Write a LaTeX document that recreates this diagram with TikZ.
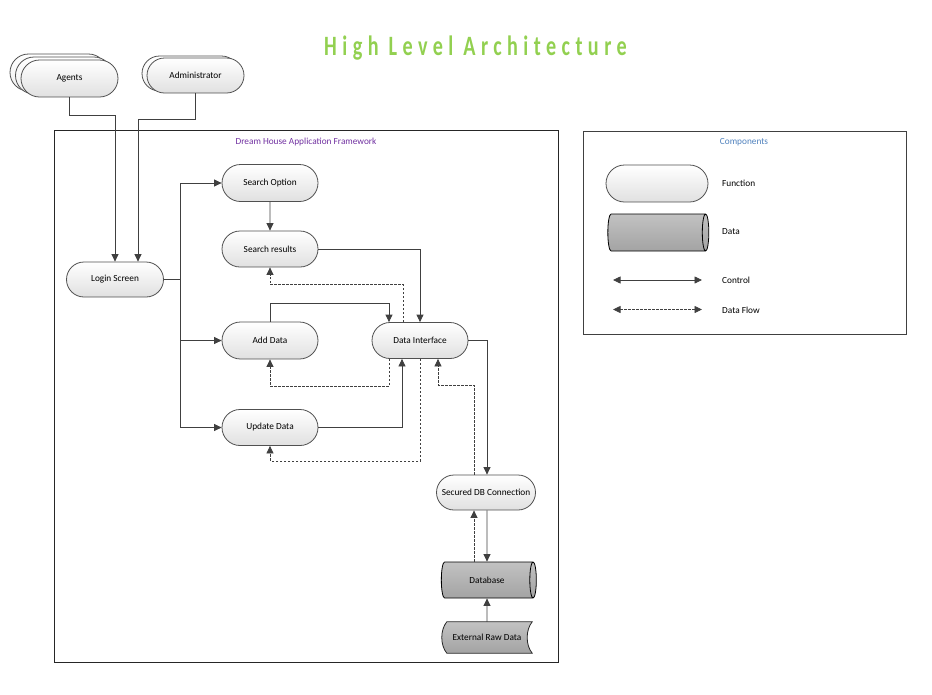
\documentclass[tikz,border=0pt]{standalone}
\usepackage{fontspec}
\setmainfont{Carlito}
\usepackage{tikz}
\usetikzlibrary{shapes.misc,shapes.geometric,shadows,arrows.meta,calc,backgrounds}

\definecolor{linegray}{RGB}{64,64,64}
\definecolor{boxgray}{RGB}{80,80,80}
\definecolor{titlegreen}{RGB}{146,208,80}
\definecolor{framepurple}{RGB}{112,48,160}
\definecolor{compblue}{RGB}{79,129,189}
\definecolor{datagray}{RGB}{172,172,172}

\begin{document}
\begin{tikzpicture}[x=1pt,y=-1pt]
	\tikzstyle{every node}+=[inner sep=0pt, font=\fontsize{9.3}{11}\selectfont]
	\tikzstyle{func}=[rounded rectangle, draw=boxgray, line width=0.8pt, top color=white, bottom color=black!12, minimum width=96pt, minimum height=36pt]
	\tikzstyle{backcopy}=[draw=boxgray, fill=white, top color=white, bottom color=black!6]
	\tikzstyle{data}=[cylinder, draw=black, line width=0.8pt, top color=black!24, bottom color=black!36, shape aspect=1, minimum height=95pt, minimum width=36pt]
	\tikzstyle{ctrl}=[draw=linegray, line width=0.8pt, >={Triangle[length=7.5pt,width=7pt]}, ->]
	\tikzstyle{flow}=[ctrl, dash pattern=on 2.5pt off 1.5pt]
	\useasboundingbox (0,0) rectangle (932,694);

	% title
	\node[text=titlegreen, font=\fontsize{28}{32}\selectfont\bfseries\addfontfeature{LetterSpace=27}] (title) at (475.5,48.5) {\scalebox{0.72}[1]{High Level Architecture}};

	% users
	\node[func, minimum width=97pt, minimum height=37pt, copy shadow={shadow xshift=-11pt,shadow yshift=6pt,backcopy}, copy shadow={shadow xshift=-5.5pt,shadow yshift=3pt,backcopy}] (agents) at (69.5,78.5) {Agents};
	\node[func, minimum width=97pt, minimum height=35pt, copy shadow={shadow xshift=-5pt,shadow yshift=2pt,backcopy}] (admin) at (195.5,75.5) {Administrator};

	% framework
	\node[draw=black!85, line width=0.8pt, minimum width=504pt, minimum height=532pt] (frame) at (306,396) {};
	\node[text=framepurple] (frametitle) at (306,142) {Dream House Application Framework};
	\node[func, minimum width=97pt, minimum height=35pt] (login) at (115,279.5) {Login Screen};
	\node[func, minimum height=37pt] (srchopt) at (270,183) {Search Option};
	\node[func] (srchres) at (270,249) {Search results};
	\node[func, minimum height=37pt] (adddata) at (270,340.5) {Add Data};
	\node[func] (upddata) at (270,427.5) {Update Data};
	\node[func] (dataif) at (420,340.5) {Data Interface};
	\node[func, minimum width=99pt, minimum height=35pt] (secdb) at (486,492.5) {Secured DB Connection};
	\node[data] (database) at (487,580) {Database};
	\node[minimum width=90pt, minimum height=31pt] (raw) at (487,637.5) {External Raw Data};
	\begin{scope}[on background layer]
		\draw[draw=black!85, line width=0.8pt, top color=black!24, bottom color=black!36] ($(raw.north west)+(5,0)$) -- (raw.north east) .. controls ($(raw.north east)+(-6.7,8)$) and ($(raw.south east)+(-6.7,-8)$) .. (raw.south east) -- ($(raw.south west)+(5,0)$) .. controls ($(raw.south west)+(-1.7,-8)$) and ($(raw.north west)+(-1.7,8)$) .. cycle;
	\end{scope}

	% legend
	\node[draw=black!75, line width=0.8pt, minimum width=323pt, minimum height=203pt] (legend) at (744.5,232.5) {};
	\node[text=compblue] (legendtitle) at (744,142) {Components};
	\node[func, minimum width=102pt, minimum height=37pt] (legfunc) at (657,183.5) {};
	\node[anchor=west] (legfunctxt) at (722,183) {Function};
	\node[data, minimum height=101pt, minimum width=37pt] (legdata) at (656.5,232.5) {\vphantom{Database}};
	\node[anchor=west] (legdatatxt) at (722,232) {Data};
	\coordinate (ctrlL) at (613,280);
	\coordinate (ctrlR) at (702,280);
	\draw[ctrl, <->] (ctrlL) -- (ctrlR);
	\node[anchor=west] (ctrltxt) at (722,280) {Control};
	\coordinate (flowL) at (613,309.5);
	\coordinate (flowR) at (702,309.5);
	\draw[flow, <->] (flowL) -- (flowR);
	\node[anchor=west] (flowtxt) at (722,310) {Data Flow};

	% connectors
	\coordinate (bus) at ($(login.east)+(16.5,0)$);
	\draw[ctrl] (agents.south) |- ++(45.5,17.5) -- (login.north);
	\draw[ctrl] (admin.south) |- ++(-57.5,26) -- ([xshift=23pt]login.north);
	\draw[ctrl] (login.east) -- (bus) |- (srchopt.west);
	\draw[ctrl] (login.east) -- (bus) |- (adddata.west);
	\draw[ctrl] (login.east) -- (bus) |- (upddata.west);
	\draw[ctrl] (srchopt) -- (srchres);
	\draw[ctrl] (srchres.east) -| (dataif.north);
	\draw[flow] ([xshift=-17pt]dataif.north) |- ($(srchres.south)+(0,17)$) -- (srchres.south);
	\draw[ctrl] (adddata.north) -- ++(0,-18) -| ([xshift=-31pt]dataif.north);
	\draw[flow] ([xshift=-31pt]dataif.south) |- ($(adddata.south)+(0,27)$) -- (adddata.south);
	\draw[ctrl] (upddata.east) -| ([xshift=-18pt]dataif.south);
	\draw[flow] (dataif.south) |- ($(upddata.south)+(0,15)$) -- (upddata.south);
	\draw[ctrl] (dataif.east) -| ([xshift=1pt]secdb.north);
	\draw[flow] ([xshift=-12pt]secdb.north) |- ($([xshift=18pt]dataif.south)+(0,26)$) -- ([xshift=18pt]dataif.south);
	\draw[ctrl] ([xshift=1pt]secdb.south) -- (database.north);
	\draw[flow] ([xshift=-13pt]database.north) -- ([xshift=-13pt]database.north |- secdb.south);
	\draw[ctrl] (raw.north) -- (database.south);
\end{tikzpicture}
\end{document}
